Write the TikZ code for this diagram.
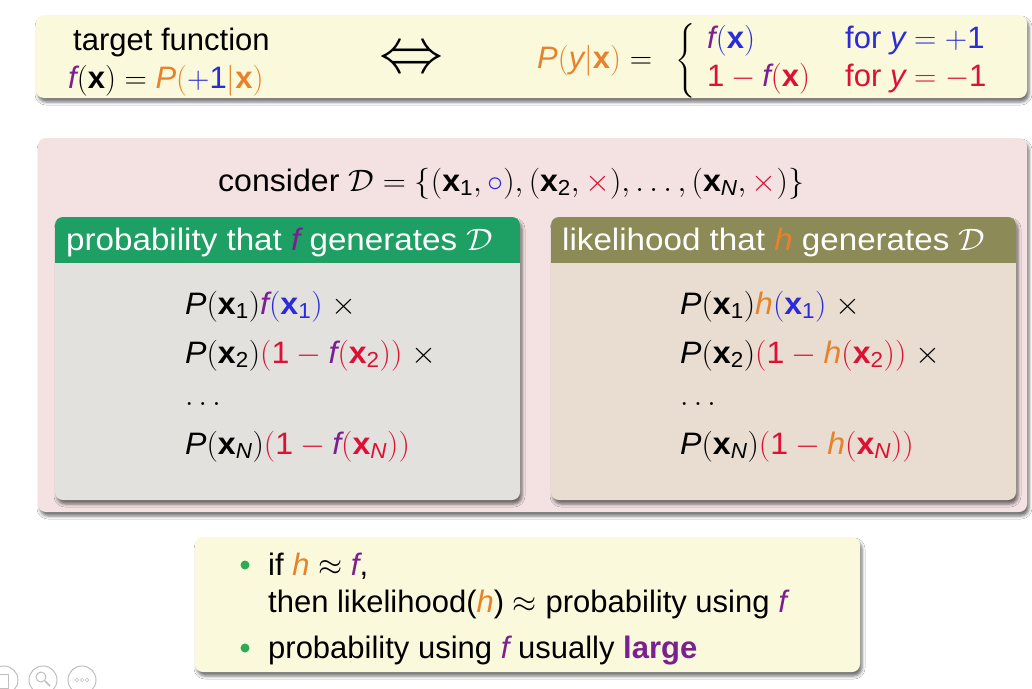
\documentclass[tikz,border=0pt]{standalone}
\usepackage{fix-cm}
\usepackage{amsmath}
\usepackage{fontspec}
\setmainfont{Liberation Sans}
\usepackage{graphicx}
\usetikzlibrary{shadows.blur}
\definecolor{cyel}{HTML}{FBF9DC}
\definecolor{cpink}{HTML}{F4E2E2}
\definecolor{cgreen}{HTML}{1E9F63}
\definecolor{colive}{HTML}{8C8A56}
\definecolor{cgray}{HTML}{E2E1DE}
\definecolor{cbeige}{HTML}{E8DDD0}
\definecolor{cpur}{HTML}{7A2090}
\definecolor{corg}{HTML}{E8822A}
\definecolor{cblu}{HTML}{2B2BD9}
\definecolor{cred}{HTML}{DD1133}
\definecolor{cbul}{HTML}{2EAA55}
\newcommand\fs{\fontsize{31}{37}\selectfont}
\newcommand\vx{\text{\bfseries\upshape x}}
\newcommand\mi[1]{\text{\mdseries\itshape #1}}
\newcommand\mr[1]{\text{\mdseries\upshape #1}}
\newcommand\ff{\textcolor{cpur}{\mi{f}}}
\newcommand\hh{\textcolor{corg}{\mi{h}}}
\newcommand\wa[1]{\scalebox{1.035}[1]{#1}}
\newcommand\wb[1]{\scalebox{1.07}[1]{#1}}
\tikzset{
  shad/.style={blur shadow={shadow xshift=2pt,shadow yshift=-4pt,shadow blur radius=3pt,shadow opacity=55}},
  txt/.style={anchor=base west,inner sep=0pt,font=\fs},
  icon/.style={draw=gray!50,line width=1pt}
}
\begin{document}
\begin{tikzpicture}[x=1pt,y=-1pt]
\useasboundingbox (0,0) rectangle (1032,688);
\fill[white] (0,0) rectangle (1032,688);
% top box
\fill[cyel,rounded corners=8pt,shad] (36,15) rectangle (1027,98);
\node[txt] (tf) at (73,50) {target function};
\node[txt] (tfe) at (68,88) {$\ff(\vx) = \textcolor{corg}{\mi{P}(\textcolor{cblu}{+\mr{1}}|\vx)}$};
\node[inner sep=0pt,font=\fontsize{64}{64}\selectfont] (eq) at (411,61) {$\Leftrightarrow$};
\node[txt] (pyx) at (537,68) {$\textcolor{corg}{\mi{P}(\mi{y}|\vx)} =$};
\node[inner sep=0pt,font=\fs] (br) at (686,62) {$\left\{\rule[-32pt]{0pt}{66pt}\right.$};
\node[txt] (c1) at (707,48) {$\ff\textcolor{cblu}{(\vx)}$};
\node[txt] (c2) at (707,86) {\color{cred}$\mr{1} - \ff(\vx)$};
\node[txt] (d1) at (845,48) {\color{cblu}for $\mi{y} = +\mr{1}$};
\node[txt] (d2) at (845,86) {\color{cred}for $\mi{y} = -\mr{1}$};
% pink box
\fill[cpink,rounded corners=8pt,shad] (38,138) rectangle (1027,512);
\node[txt] (cons) at (218,191) {\wa{consider $\mathcal{D} = \{(\vx_{\mr{1}}, \textcolor{cblu}{\circ}), (\vx_{\mr{2}}, \textcolor{cred}{\times}), \ldots, (\vx_{\mi{N}}, \textcolor{cred}{\times})\}$}};
% left block
\fill[cgray,rounded corners=8pt,shad] (55,217) rectangle (520,500);
\begin{scope}
\clip[rounded corners=8pt] (55,217) rectangle (520,500);
\fill[cgreen] (55,217) rectangle (520,263);
\end{scope}
\node[txt,text=white] (lh) at (66,250) {\wb{probability that $\ff$ generates $\mathcal{D}$}};
\node[txt] (l1) at (185,314) {\wa{$\mi{P}(\vx_{\mr{1}})\ff\textcolor{cblu}{(\vx_{\mr{1}})}\;\times$}};
\node[txt] (l2) at (185,363) {\wa{$\mi{P}(\vx_{\mr{2}})\textcolor{cred}{(\mr{1} - \ff(\vx_{\mr{2}}))}\;\times$}};
\node[txt] (l3) at (185,405) {$\ldots$};
\node[txt] (l4) at (185,454) {\wa{$\mi{P}(\vx_{\mi{N}})\textcolor{cred}{(\mr{1} - \ff(\vx_{\mi{N}}))}$}};
% right block
\fill[cbeige,rounded corners=8pt,shad] (551,217) rectangle (1016,500);
\begin{scope}
\clip[rounded corners=8pt] (551,217) rectangle (1016,500);
\fill[colive] (551,217) rectangle (1016,263);
\end{scope}
\node[txt,text=white] (rh) at (562,250) {\wb{likelihood that $\hh$ generates $\mathcal{D}$}};
\node[txt] (r1) at (680,314) {\wa{$\mi{P}(\vx_{\mr{1}})\hh\textcolor{cblu}{(\vx_{\mr{1}})}\;\times$}};
\node[txt] (r2) at (680,363) {\wa{$\mi{P}(\vx_{\mr{2}})\textcolor{cred}{(\mr{1} - \hh(\vx_{\mr{2}}))}\;\times$}};
\node[txt] (r3) at (680,405) {$\ldots$};
\node[txt] (r4) at (680,454) {\wa{$\mi{P}(\vx_{\mi{N}})\textcolor{cred}{(\mr{1} - \hh(\vx_{\mi{N}}))}$}};
% bottom box
\fill[cyel,rounded corners=8pt,shad] (195,537) rectangle (860,672);
\fill[cbul] (245,565) circle (4.5pt);
\fill[cbul] (245,648) circle (4.5pt);
\node[txt] (b1) at (268,575) {if $\hh \approx \ff$,};
\node[txt] (b2) at (268,612) {then likelihood($\hh$) $\approx$ probability using $\ff$};
\node[txt] (b3) at (268,658) {probability using $\ff$ usually \textbf{\color{cpur}large}};
% icons
\draw[icon] (4,680) circle (14pt);
\draw[icon] (-2,674) rectangle (8,688);
\draw[icon] (43,680) circle (14pt);
\draw[icon] (41,677) circle (5pt);
\draw[icon,line width=1.5pt] (45,681) -- (50,686);
\draw[icon] (82,680) circle (14pt);
\foreach \i in {-5,0,5} \draw[icon,line width=0.6pt] (82+\i,680) circle (1.8pt);
\end{tikzpicture}
\end{document}
